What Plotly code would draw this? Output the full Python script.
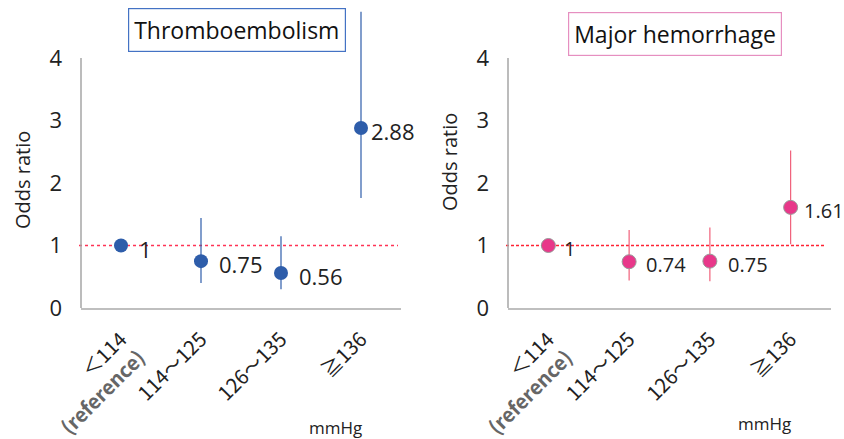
import plotly.graph_objects as go

categories = ["＜114<br><b><span style='color:#666666'>(reference)</span></b>", "114～125", "126～135", "≧136"]
cat_keys = ["c1", "c2", "c3", "c4"]

thrombo_or = [1.0, 0.75, 0.56, 2.88]
thrombo_hi = [1.0, 1.44, 1.15, 4.74]
thrombo_lo = [1.0, 0.40, 0.30, 1.76]
thrombo_lbl = ["1", "0.75", "0.56", "2.88"]

hemo_or = [1.0, 0.74, 0.75, 1.61]
hemo_hi = [1.0, 1.25, 1.29, 2.52]
hemo_lo = [1.0, 0.44, 0.43, 1.02]
hemo_lbl = ["1", "0.74", "0.75", "1.61"]

FONT = "Open Sans"
TICKFONT = "Noto Sans CJK JP"
W, H = 844, 439

def px_x(p):
    return p / W

def px_y(p):
    return (H - p) / H

fig = go.Figure()

blue = "#2E5DAA"
pink = "#E8388A"
pinkbar = "#F0607A"

fig.add_trace(go.Scatter(
    x=cat_keys, y=thrombo_or, mode="markers", xaxis="x", yaxis="y",
    marker=dict(size=14, color=blue, line=dict(width=0)),
    error_y=dict(type="data", symmetric=False,
                 array=[h - v for h, v in zip(thrombo_hi, thrombo_or)],
                 arrayminus=[v - l for v, l in zip(thrombo_or, thrombo_lo)],
                 color=blue, thickness=1.2, width=0),
    cliponaxis=False, showlegend=False))

fig.add_trace(go.Scatter(
    x=cat_keys, y=hemo_or, mode="markers", xaxis="x2", yaxis="y2",
    marker=dict(size=14, color=pink, line=dict(width=1, color="#999999")),
    error_y=dict(type="data", symmetric=False,
                 array=[h - v for h, v in zip(hemo_hi, hemo_or)],
                 arrayminus=[v - l for v, l in zip(hemo_or, hemo_lo)],
                 color=pinkbar, thickness=1.2, width=0),
    cliponaxis=False, showlegend=False))

ydom = [px_y(308), px_y(8)]
yrange = [0, 4.8]

axis_common = dict(
    type="category", categoryorder="array", categoryarray=cat_keys,
    tickvals=cat_keys, ticktext=categories, tickangle=-45,
    tickfont=dict(family=TICKFONT, size=20, color="#222222"),
    showgrid=False, zeroline=False, showline=True, linecolor="#BFBFBF",
    linewidth=1.5, ticks="", range=[-0.5, 3.5], ticklabelstandoff=10,
    automargin=False,
)
yaxis_common = dict(
    range=yrange, tickvals=[0, 1, 2, 3, 4], ticktext=["0", "1", "2", "3", "4"],
    tickfont=dict(family=FONT, size=22, color="#222222"),
    showgrid=False, zeroline=False, showline=False, ticks="",
    ticklabelstandoff=18, automargin=False,
)

fig.update_layout(
    width=W, height=H, margin=dict(l=0, r=0, t=0, b=0),
    paper_bgcolor="white", plot_bgcolor="white",
    xaxis=dict(domain=[px_x(81), px_x(401)], anchor="y", **axis_common),
    yaxis=dict(domain=ydom, anchor="x", **yaxis_common),
    xaxis2=dict(domain=[px_x(508), px_x(831)], anchor="y2", **axis_common),
    yaxis2=dict(domain=ydom, anchor="x2", **yaxis_common),
)

# reference lines at OR = 1 (drawn first so markers sit above)
fig.add_shape(type="line", xref="paper", yref="y", x0=px_x(79), x1=px_x(398), y0=1, y1=1,
              line=dict(color="#FF3355", width=1.3, dash="dot"), layer="below")
fig.add_shape(type="line", xref="paper", yref="y2", x0=px_x(506), x1=px_x(824), y0=1, y1=1,
              line=dict(color="#FF2233", width=1.3, dash="3px,2px"), layer="below")
# y axis lines (0..4 only)
fig.add_shape(type="line", xref="paper", yref="y", x0=px_x(81), x1=px_x(81), y0=0, y1=4,
              line=dict(color="#A6A6A6", width=1.5))
fig.add_shape(type="line", xref="paper", yref="y2", x0=px_x(508), x1=px_x(508), y0=0, y1=4,
              line=dict(color="#A6A6A6", width=1.5))

# data labels
t_shift = [16, 16, 16, 8]
h_shift = [14, 15, 16, 11]
for k, v, s, sh in zip(cat_keys, thrombo_or, thrombo_lbl, t_shift):
    fig.add_annotation(x=k, y=v, xref="x", yref="y", text=s, showarrow=False,
                       xanchor="left", yanchor="middle", xshift=sh, yshift=-3,
                       font=dict(family=FONT, size=22, color="#222222"))
for k, v, s, sh in zip(cat_keys, hemo_or, hemo_lbl, h_shift):
    fig.add_annotation(x=k, y=v, xref="x2", yref="y2", text=s, showarrow=False,
                       xanchor="left", yanchor="middle", xshift=sh, yshift=-3,
                       font=dict(family=FONT, size=20, color="#222222"))

# titles in boxes
fig.add_annotation(x=px_x(237), y=px_y(30.5), xref="paper", yref="paper",
                   text="Thromboembolism", showarrow=False, xanchor="center", yanchor="middle",
                   font=dict(family=FONT, size=23, color="#111111"),
                   bordercolor="#4472C4", borderwidth=1.2, borderpad=5, bgcolor="white")
fig.add_annotation(x=px_x(674.5), y=px_y(34), xref="paper", yref="paper",
                   text="Major hemorrhage", showarrow=False, xanchor="center", yanchor="middle",
                   font=dict(family=FONT, size=23, color="#111111"),
                   bordercolor="#E68FC0", borderwidth=1.2, borderpad=5, bgcolor="white")

# y axis titles
for xc, yc in [(22, 180), (450, 162)]:
    fig.add_annotation(x=px_x(xc), y=px_y(yc), xref="paper", yref="paper",
                       text="Odds ratio", textangle=-90, showarrow=False,
                       xanchor="center", yanchor="middle",
                       font=dict(family=FONT, size=20, color="#222222"))

# unit labels
for xc, yc in [(335, 427), (764, 423)]:
    fig.add_annotation(x=px_x(xc), y=px_y(yc), xref="paper", yref="paper",
                       text="mmHg", showarrow=False, xanchor="center", yanchor="middle",
                       font=dict(family=FONT, size=17, color="#222222"))

fig.write_html("out.html")
